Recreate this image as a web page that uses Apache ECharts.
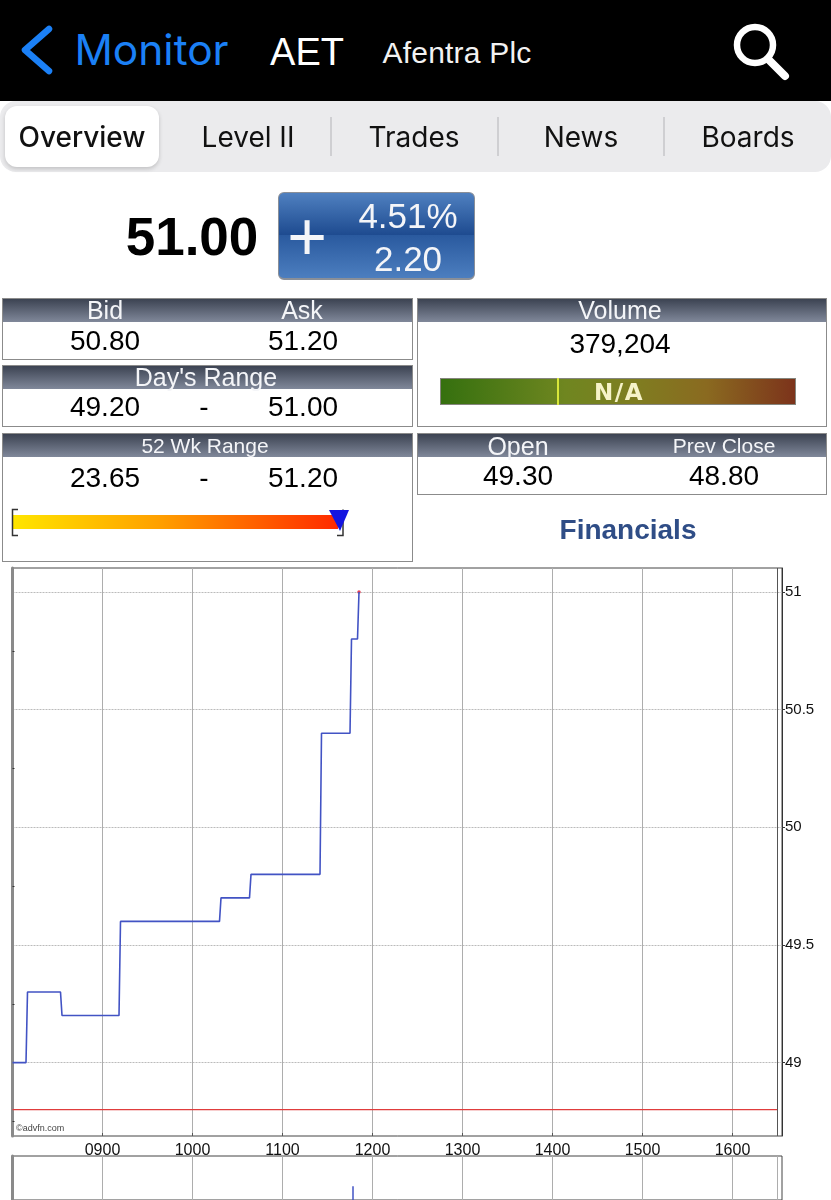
<!DOCTYPE html>
<html>
<head>
<meta charset="utf-8">
<script src="https://cdn.jsdelivr.net/npm/echarts@6/dist/echarts.min.js"></script>
<style>
  html, body { margin: 0; padding: 0; background: #fff; overflow: hidden; }
  body { width: 831px; height: 1200px; position: relative; font-family: "Liberation Sans", sans-serif; color: #000; }
  #chart { position: absolute; left: 0; top: 0; width: 831px; height: 1200px; }
  .box { position: absolute; box-sizing: border-box; background: #fff; border: 1px solid #8b8b8b; }
  .bar { position: absolute; left: 0; right: 0; top: 0; height: 23px; background: linear-gradient(#3c4352, #80889a); }
  /* line-height 0: top is the vertical centre of the capitals */
  .t { position: absolute; line-height: 0; white-space: nowrap; transform: translateX(-50%); }
  .w { color: #f4f5f8; }
  .v { font-size: 28px; }
  .tab { font-family: Inter, Roboto, sans-serif; font-size: 28px; top: 137px; color: #111; }
  .sep { position: absolute; top: 117px; width: 2px; height: 39px; background: #cfcfd2; }
</style>
</head>
<body>
<div id="chart"></div>

<div style="position:absolute;left:0;top:0;width:831px;height:101px;background:#000"></div>
<svg style="position:absolute;left:0;top:0" width="831" height="101">
  <path d="M49 29 L25 50 L49 71" fill="none" stroke="#1b80f6" stroke-width="6.5" stroke-linecap="round" stroke-linejoin="round"/>
  <circle cx="755" cy="45" r="18" fill="none" stroke="#fff" stroke-width="6.5"/>
  <path d="M768 59 L785 76" stroke="#fff" stroke-width="8" stroke-linecap="round"/>
</svg>
<div class="t" style="left:151.5px;top:50px;font-family:Inter,Roboto,sans-serif;font-size:42.5px;color:#1b80f6">Monitor</div>
<div class="t" style="left:307px;top:52px;font-size:38px;color:#fff">AET</div>
<div class="t" style="left:457px;top:53px;font-size:30px;color:#f2f2f2;letter-spacing:.2px">Afentra Plc</div>

<div style="position:absolute;left:0;top:101px;width:831px;height:71px;background:#ebebed;border-radius:16px"></div>
<div style="position:absolute;left:5px;top:106px;width:154px;height:61px;background:#fff;border-radius:12px;box-shadow:0 2px 4px rgba(0,0,0,.18)"></div>
<div class="sep" style="left:330px"></div>
<div class="sep" style="left:497px"></div>
<div class="sep" style="left:663px"></div>
<div class="t tab" style="left:82px;font-weight:500">Overview</div>
<div class="t tab" style="left:248px">Level II</div>
<div class="t tab" style="left:414px">Trades</div>
<div class="t tab" style="left:581px">News</div>
<div class="t tab" style="left:748px">Boards</div>

<div class="t" style="left:192px;top:237px;font-size:53px;font-weight:bold">51.00</div>
<div style="position:absolute;left:278px;top:192px;width:197px;height:88px;box-sizing:border-box;border:1px solid #8a8f98;border-bottom:2px solid #8a8f98;border-radius:6px;background:linear-gradient(#4f80c0 0%,#1d4a8f 50%,#2a5a9f 50%,#4c7ebf 100%)"></div>
<div class="t w" style="left:307px;top:236px;font-size:68px">+</div>
<div class="t w" style="left:408px;top:216px;font-size:35px">4.51%</div>
<div class="t w" style="left:408px;top:259px;font-size:35px">2.20</div>

<div class="box" style="left:2px;top:298px;width:411px;height:62px"><div class="bar"></div></div>
<div class="t w" style="left:105px;top:310px;font-size:25px">Bid</div>
<div class="t w" style="left:302px;top:310px;font-size:25px">Ask</div>
<div class="t v" style="left:105px;top:341px">50.80</div>
<div class="t v" style="left:303px;top:341px">51.20</div>

<div class="box" style="left:2px;top:365px;width:411px;height:62px"><div class="bar"></div></div>
<div class="t w" style="left:206px;top:377px;font-size:25px">Day's Range</div>
<div class="t v" style="left:105px;top:407px">49.20</div>
<div class="t v" style="left:204px;top:407px">-</div>
<div class="t v" style="left:303px;top:407px">51.00</div>

<div class="box" style="left:2px;top:433px;width:411px;height:129px"><div class="bar"></div></div>
<div class="t w" style="left:205px;top:446px;font-size:21px">52 Wk Range</div>
<div class="t v" style="left:105px;top:478px">23.65</div>
<div class="t v" style="left:204px;top:478px">-</div>
<div class="t v" style="left:303px;top:478px">51.20</div>
<div style="position:absolute;left:12px;top:515px;width:326px;height:14px;background:linear-gradient(90deg,#ffe600,#ffa000 45%,#ff2a00)"></div>
<svg style="position:absolute;left:0;top:500px" width="420" height="40">
  <path d="M18 9.5 H12.5 V35.5 H18" fill="none" stroke="#333" stroke-width="1.5"/>
  <path d="M337 35.5 H343 V9.5" fill="none" stroke="#333" stroke-width="1.5"/>
  <path d="M329 10 H349 L340 31 Z" fill="#1414e0"/>
</svg>

<div class="box" style="left:417px;top:298px;width:410px;height:129px"><div class="bar"></div></div>
<div class="t w" style="left:620px;top:310px;font-size:25px">Volume</div>
<div class="t v" style="left:620px;top:344px">379,204</div>
<div style="position:absolute;left:440px;top:378px;width:356px;height:27px;box-sizing:border-box;border:1px solid #85857d;background:linear-gradient(90deg,#35700f,#6f8620 35%,#7f7d20 55%,#8a6a20 75%,#7c331b)"></div>
<div style="position:absolute;left:557px;top:378px;width:2px;height:27px;background:#d8e63a"></div>
<div class="t" style="left:619px;top:392px;font-family:'DejaVu Sans';font-weight:bold;font-size:23px;letter-spacing:1.5px;color:#f6f3c8">N/A</div>

<div class="box" style="left:417px;top:433px;width:410px;height:62px"><div class="bar"></div></div>
<div class="t w" style="left:518px;top:446px;font-size:25px">Open</div>
<div class="t w" style="left:724px;top:446px;font-size:21px">Prev Close</div>
<div class="t v" style="left:518px;top:476px">49.30</div>
<div class="t v" style="left:724px;top:476px">48.80</div>

<div class="t" style="left:628px;top:530px;font-size:28px;font-weight:bold;color:#2f4d86">Financials</div>

<script>
// minutes since midnight
const priceTimes = [480, 489, 490, 512, 513, 551, 552, 618, 619, 638, 639, 685, 686, 705, 706, 710, 711];
const prices = [49, 49, 49.3, 49.3, 49.2, 49.2, 49.6, 49.6, 49.7, 49.7, 49.8, 49.8, 50.4, 50.4, 50.8, 50.8, 51];
const prevClose = 48.8;
const sessionEnd = 990;

const hourTicks = [540, 600, 660, 720, 780, 840, 900, 960];
const priceTicks = [49, 49.5, 50, 50.5, 51];
const quarterTicks = [48.75, 49.25, 49.75, 50.25, 50.75];

// only the top of the volume panel is on screen
const volumeTimes = [707];
const volumes = [31];

const X_MIN = 480, X_MAX = 993;
const PLOT_LEFT = 12.5, PLOT_RIGHT = 49;

const pair = (xs, ys) => xs.map((x, i) => [x, ys[i]]);
const hhmm = m => String(Math.floor(m / 60)).padStart(2, '0') + String(m % 60).padStart(2, '0');

const timeAxis = (gridIndex, showLabel) => ({
    type: 'value',
    gridIndex,
    min: X_MIN,
    max: X_MAX,
    axisLine: { show: false },
    axisTick: { show: showLabel, length: 3, inside: true, customValues: hourTicks.concat(sessionEnd), lineStyle: { color: '#555' } },
    axisLabel: {
        show: showLabel,
        customValues: hourTicks,
        formatter: hhmm,
        color: '#111',
        fontSize: 16,
        margin: 7,
        fontFamily: 'Liberation Sans'
    },
    splitLine: { show: true, lineStyle: { color: '#adadad', width: 1 } }
});

const chart = echarts.init(document.getElementById('chart'));

chart.setOption({
    animation: false,
    backgroundColor: 'transparent',
    graphic: [{
        type: 'text',
        left: 16,
        top: 1124,
        style: { text: '©advfn.com', fill: '#444', font: '9px "Liberation Sans"' }
    }],
    grid: [
        { left: PLOT_LEFT, right: PLOT_RIGHT, top: 568, height: 568, show: true, borderColor: '#444', borderWidth: 1, backgroundColor: 'transparent' },
        { left: PLOT_LEFT, right: PLOT_RIGHT, top: 1156, height: 44, show: true, borderColor: '#444', borderWidth: 1, backgroundColor: 'transparent' }
    ],
    xAxis: [timeAxis(0, true), timeAxis(1, false)],
    yAxis: [
        {
            type: 'value',
            gridIndex: 0,
            position: 'right',
            min: 48.688,
            max: 51.102,
            axisLine: { show: true, lineStyle: { color: '#333' } },
            axisTick: { show: true, length: 3, customValues: priceTicks, lineStyle: { color: '#333' } },
            axisLabel: { customValues: priceTicks, color: '#111', fontSize: 15, margin: 3, padding: [2, 0, 0, 0], fontFamily: 'Liberation Sans' },
            splitLine: { show: true, lineStyle: { color: '#bbbbbb', width: 1, type: [2, 1] } }
        },
        {
            type: 'value',
            gridIndex: 0,
            position: 'left',
            min: 48.688,
            max: 51.102,
            axisLine: { show: true, lineStyle: { color: '#8a8a8a', width: 3 } },
            axisTick: { show: true, inside: true, length: 2, customValues: quarterTicks, lineStyle: { color: '#333' } },
            axisLabel: { show: false },
            splitLine: { show: false }
        },
        {
            type: 'value',
            gridIndex: 1,
            position: 'left',
            min: 0,
            max: 100,
            axisLine: { show: true, lineStyle: { color: '#8a8a8a', width: 3 } },
            axisTick: { show: false },
            axisLabel: { show: false },
            splitLine: { show: false }
        }
    ],
    series: [
        {
            type: 'line',
            name: 'Prev Close',
            xAxisIndex: 0,
            yAxisIndex: 0,
            data: [[X_MIN, prevClose], [sessionEnd, prevClose]],
            symbol: 'none',
            lineStyle: { color: '#e03c3c', width: 1.2 },
            // darker line at the close of the session
            markLine: {
                silent: true,
                symbol: 'none',
                label: { show: false },
                lineStyle: { color: '#555', width: 1, type: 'solid' },
                data: [{ xAxis: sessionEnd }]
            }
        },
        {
            type: 'line',
            name: 'Price',
            xAxisIndex: 0,
            yAxisIndex: 0,
            data: pair(priceTimes, prices),
            symbol: 'none',
            lineStyle: { color: '#4253c4', width: 1.6 }
        },
        {
            type: 'scatter',
            name: 'Last',
            xAxisIndex: 0,
            yAxisIndex: 0,
            data: [[priceTimes[priceTimes.length - 1], prices[prices.length - 1]]],
            symbolSize: 3.5,
            itemStyle: { color: '#e0102a' }
        },
        {
            type: 'bar',
            name: 'Volume',
            xAxisIndex: 1,
            yAxisIndex: 2,
            data: pair(volumeTimes, volumes),
            barWidth: 1.5,
            itemStyle: { color: '#4253c4' }
        }
    ]
});

window.addEventListener('resize', () => {
    chart.resize();
});
</script>
</body>
</html>
